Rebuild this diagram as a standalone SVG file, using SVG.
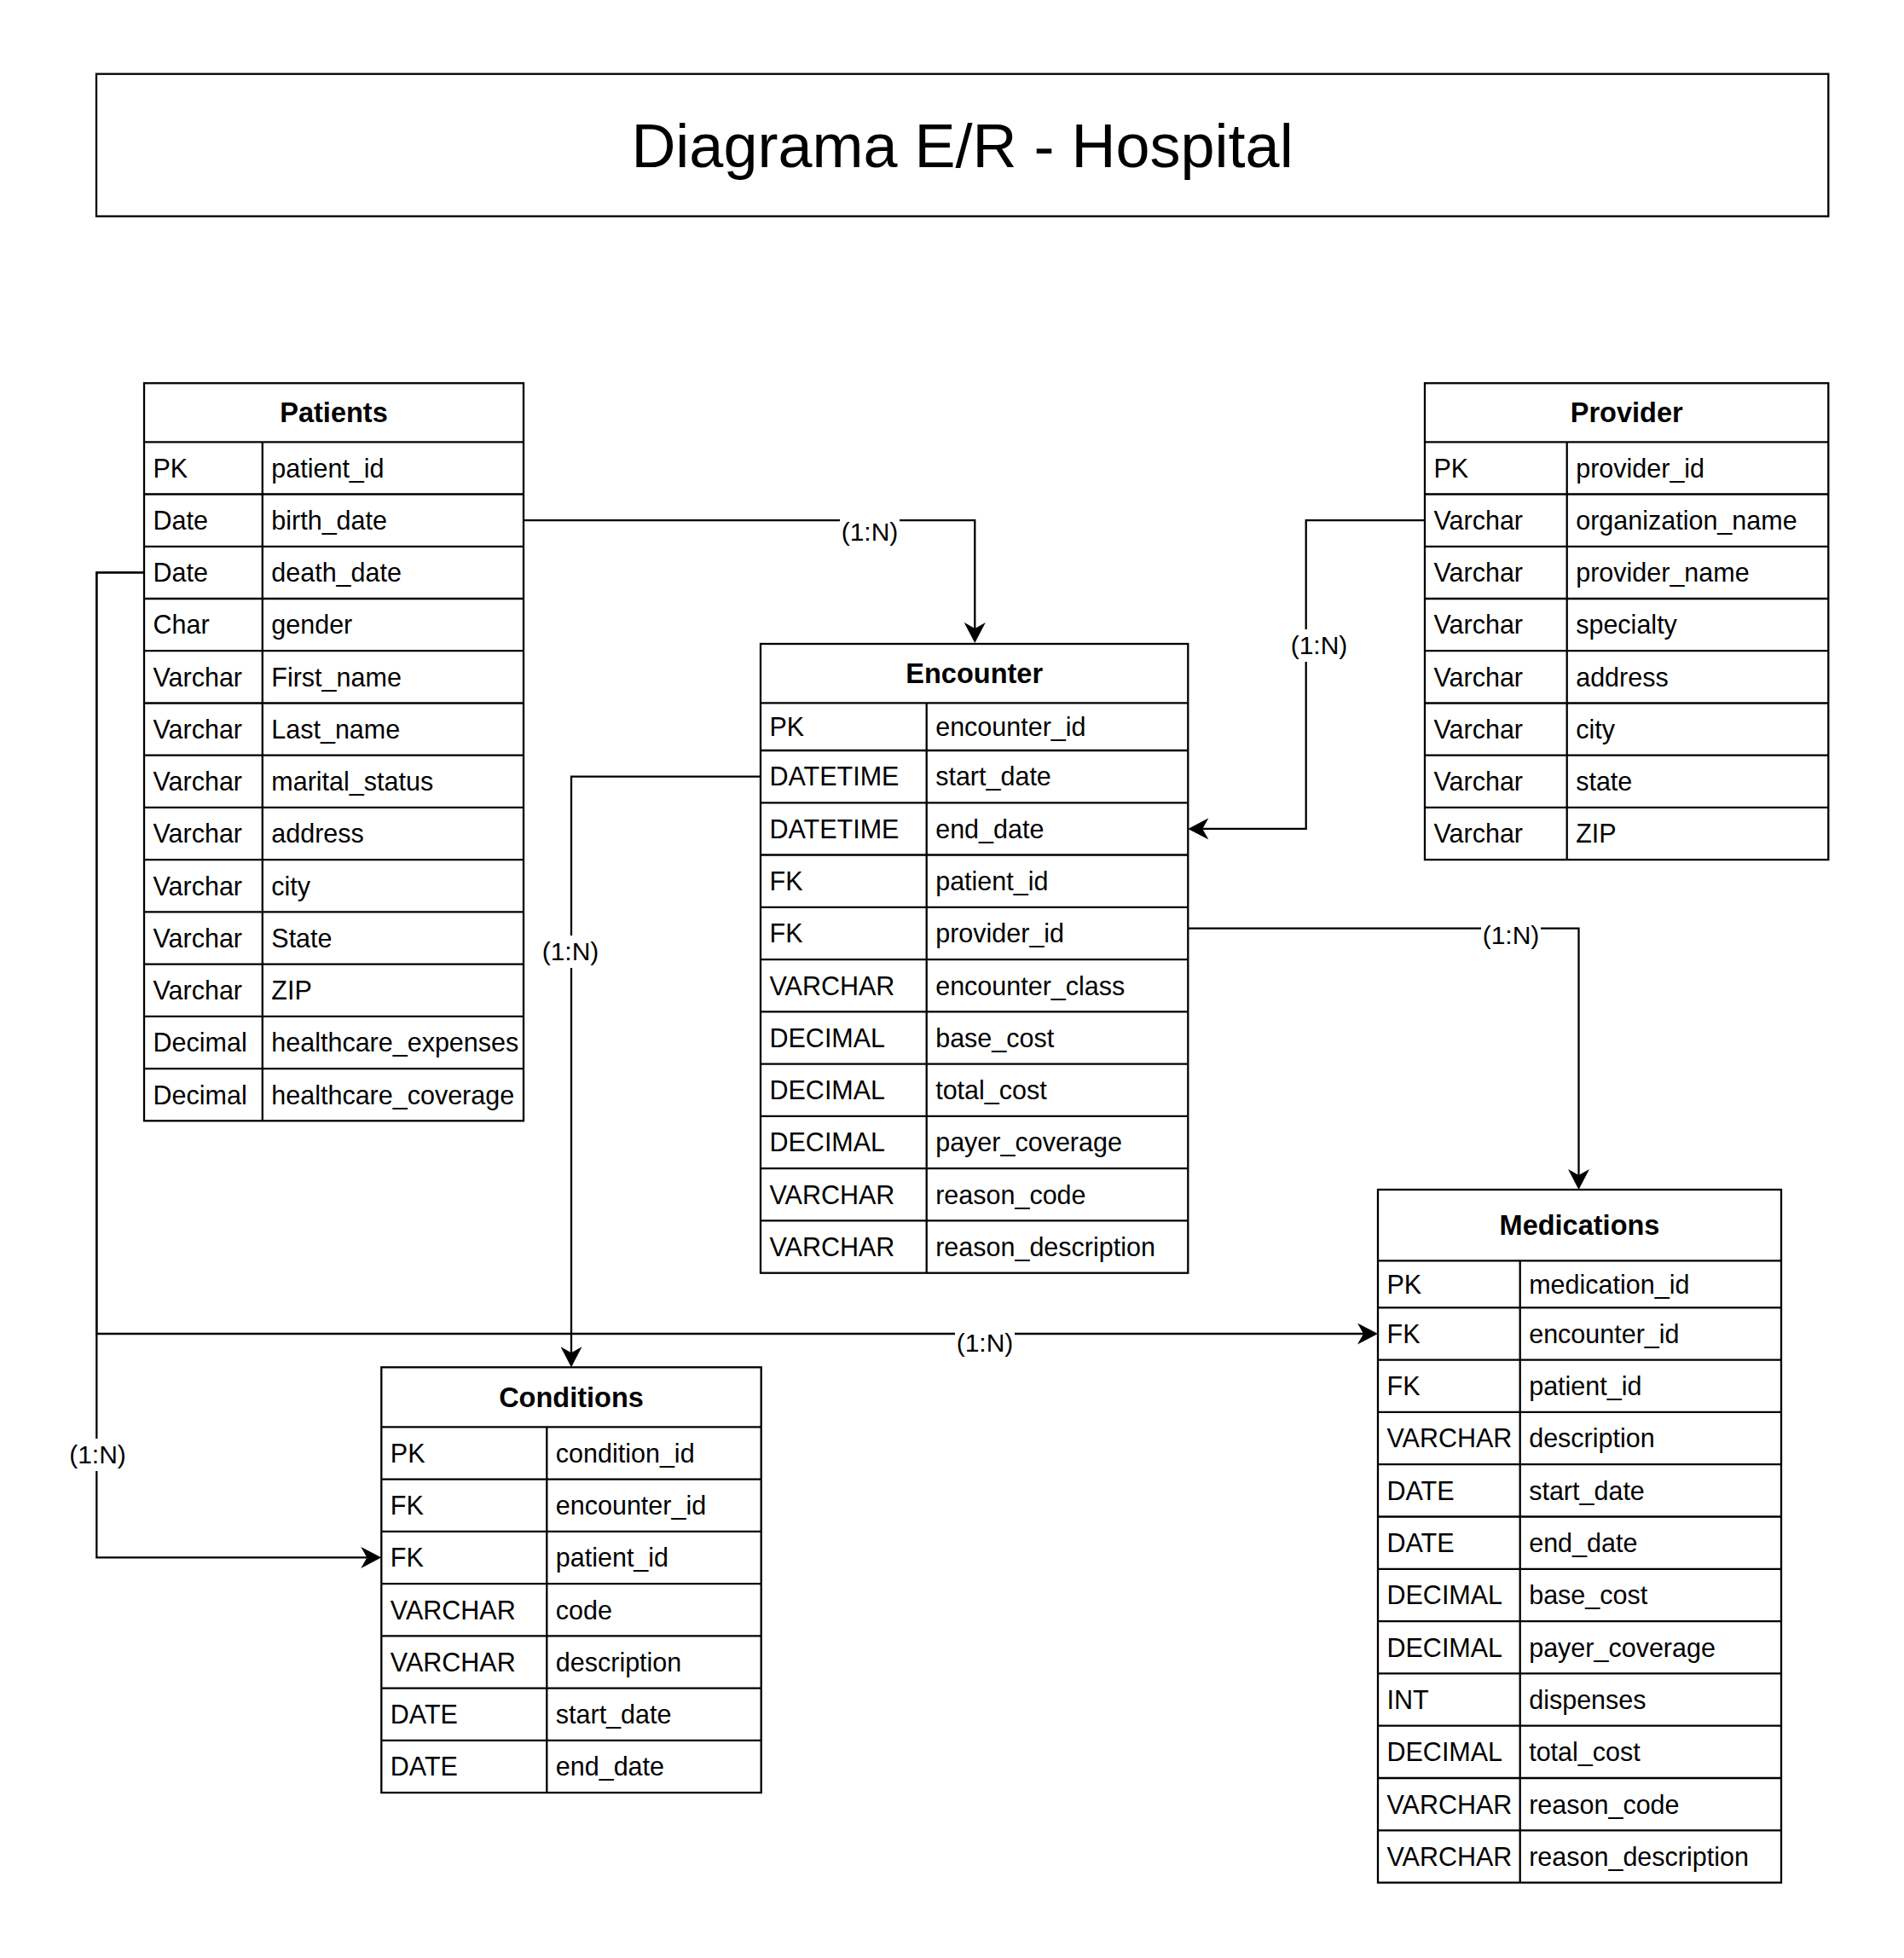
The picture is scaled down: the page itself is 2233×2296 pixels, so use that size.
<svg xmlns="http://www.w3.org/2000/svg" width="2233" height="2296" viewBox="0 0 2233 2296">
<style>
.bx{fill:#fff;stroke:#000;stroke-width:2.3}
.ln{stroke:#000;stroke-width:2.3;fill:none}
.t{font-family:"Liberation Sans",Arial,sans-serif;font-size:30.5px;fill:#000}
.h{font-family:"Liberation Sans",Arial,sans-serif;font-size:32.5px;font-weight:bold;fill:#000;text-anchor:middle}
.title{font-family:"Liberation Sans",Arial,sans-serif;font-size:72px;fill:#000;text-anchor:middle}
.lbl{font-family:"Liberation Sans",Arial,sans-serif;font-size:30px;fill:#000;text-anchor:middle}
.lb{fill:#fff;stroke:none}
.cn{stroke:#000;stroke-width:2.3;fill:none}
</style>
<defs>
<marker id="arr" viewBox="-24 -12.5 24 25" refX="-17" refY="0" markerWidth="24" markerHeight="25" markerUnits="userSpaceOnUse" orient="auto">
<path d="M0,0 L-24,-12.5 L-17,0 L-24,12.5 Z" fill="#000"/>
</marker>
</defs>
<rect width="2233" height="2296" fill="#fff"/>

<g id="title">
<rect class="bx" x="113" y="86.7" width="2031.3" height="166.9"/>
<text class="title" x="1128.5" y="195.5">Diagrama E/R - Hospital</text>
</g>

<g id="connectors">
<path class="cn" d="M614,610.2 H1143.3 V737" marker-end="url(#arr)"/>
<path class="cn" d="M1671,610.2 H1531.7 V971.9 H1410.3" marker-end="url(#arr)"/>
<path class="cn" d="M892,910.6 H670 V1586.3" marker-end="url(#arr)"/>
<path class="cn" d="M1393.3,1088.7 H1851.5 V1378" marker-end="url(#arr)"/>
<path class="cn" d="M169,671.4 H113.3 V1826.4 H430.3" marker-end="url(#arr)"/>
<path class="cn" d="M169,671.4 H113.3 V1564 H1599" marker-end="url(#arr)"/>
<rect class="lb" x="985" y="605" width="70" height="38"/>
<text class="lbl" x="1020" y="634">(1:N)</text>
<rect class="lb" x="1512" y="738" width="70" height="38"/>
<text class="lbl" x="1547" y="767">(1:N)</text>
<rect class="lb" x="634" y="1097" width="70" height="38"/>
<text class="lbl" x="669" y="1125.5">(1:N)</text>
<rect class="lb" x="1737" y="1080" width="70" height="36"/>
<text class="lbl" x="1772" y="1106.5">(1:N)</text>
<rect class="lb" x="1120" y="1557" width="70" height="38"/>
<text class="lbl" x="1155" y="1585">(1:N)</text>
<rect class="lb" x="79.5" y="1687" width="70" height="38"/>
<text class="lbl" x="114.5" y="1715.5">(1:N)</text>
</g>

<g id="patients">
<rect class="bx" x="169" y="449.3" width="445" height="865"/>
<path class="ln" d="M169,518.3H614 M169,579.5H614 M169,640.8H614 M169,702H614 M169,763.2H614 M169,824.5H614 M169,885.7H614 M169,946.9H614 M169,1008.1H614 M169,1069.4H614 M169,1130.6H614 M169,1191.8H614 M169,1253.1H614 M307.8,518.3V1314.3"/>
<text class="h" x="391.5" y="495.3">Patients</text>
<text class="t" x="179.5" y="559.7">PK</text><text class="t" x="318.3" y="559.7">patient_id</text>
<text class="t" x="179.5" y="621">Date</text><text class="t" x="318.3" y="621">birth_date</text>
<text class="t" x="179.5" y="682.2">Date</text><text class="t" x="318.3" y="682.2">death_date</text>
<text class="t" x="179.5" y="743.4">Char</text><text class="t" x="318.3" y="743.4">gender</text>
<text class="t" x="179.5" y="804.7">Varchar</text><text class="t" x="318.3" y="804.7">First_name</text>
<text class="t" x="179.5" y="865.9">Varchar</text><text class="t" x="318.3" y="865.9">Last_name</text>
<text class="t" x="179.5" y="927.1">Varchar</text><text class="t" x="318.3" y="927.1">marital_status</text>
<text class="t" x="179.5" y="988.3">Varchar</text><text class="t" x="318.3" y="988.3">address</text>
<text class="t" x="179.5" y="1049.6">Varchar</text><text class="t" x="318.3" y="1049.6">city</text>
<text class="t" x="179.5" y="1110.8">Varchar</text><text class="t" x="318.3" y="1110.8">State</text>
<text class="t" x="179.5" y="1172">Varchar</text><text class="t" x="318.3" y="1172">ZIP</text>
<text class="t" x="179.5" y="1233.3">Decimal</text><text class="t" x="318.3" y="1233.3">healthcare_expenses</text>
<text class="t" x="179.5" y="1294.5">Decimal</text><text class="t" x="318.3" y="1294.5">healthcare_coverage</text>
</g>

<g id="provider">
<rect class="bx" x="1671" y="449.3" width="473.3" height="558.8"/>
<path class="ln" d="M1671,518.3H2144.3 M1671,579.5H2144.3 M1671,640.8H2144.3 M1671,702H2144.3 M1671,763.2H2144.3 M1671,824.5H2144.3 M1671,885.7H2144.3 M1671,946.9H2144.3 M1837.7,518.3V1008.1"/>
<text class="h" x="1907.7" y="495.3">Provider</text>
<text class="t" x="1681.5" y="559.7">PK</text><text class="t" x="1848.2" y="559.7">provider_id</text>
<text class="t" x="1681.5" y="621">Varchar</text><text class="t" x="1848.2" y="621">organization_name</text>
<text class="t" x="1681.5" y="682.2">Varchar</text><text class="t" x="1848.2" y="682.2">provider_name</text>
<text class="t" x="1681.5" y="743.4">Varchar</text><text class="t" x="1848.2" y="743.4">specialty</text>
<text class="t" x="1681.5" y="804.7">Varchar</text><text class="t" x="1848.2" y="804.7">address</text>
<text class="t" x="1681.5" y="865.9">Varchar</text><text class="t" x="1848.2" y="865.9">city</text>
<text class="t" x="1681.5" y="927.1">Varchar</text><text class="t" x="1848.2" y="927.1">state</text>
<text class="t" x="1681.5" y="988.3">Varchar</text><text class="t" x="1848.2" y="988.3">ZIP</text>
</g>

<g id="encounter">
<rect class="bx" x="892" y="755" width="501.3" height="737.7"/>
<path class="ln" d="M892,824.3H1393.3 M892,880H1393.3 M892,941.3H1393.3 M892,1002.5H1393.3 M892,1063.8H1393.3 M892,1125.1H1393.3 M892,1186.4H1393.3 M892,1247.6H1393.3 M892,1308.9H1393.3 M892,1370.2H1393.3 M892,1431.4H1393.3 M1086.7,824.3V1492.7"/>
<text class="h" x="1142.7" y="801.2">Encounter</text>
<text class="t" x="902.5" y="863">PK</text><text class="t" x="1097.2" y="863">encounter_id</text>
<text class="t" x="902.5" y="921.4">DATETIME</text><text class="t" x="1097.2" y="921.4">start_date</text>
<text class="t" x="902.5" y="982.7">DATETIME</text><text class="t" x="1097.2" y="982.7">end_date</text>
<text class="t" x="902.5" y="1044">FK</text><text class="t" x="1097.2" y="1044">patient_id</text>
<text class="t" x="902.5" y="1105.3">FK</text><text class="t" x="1097.2" y="1105.3">provider_id</text>
<text class="t" x="902.5" y="1166.5">VARCHAR</text><text class="t" x="1097.2" y="1166.5">encounter_class</text>
<text class="t" x="902.5" y="1227.8">DECIMAL</text><text class="t" x="1097.2" y="1227.8">base_cost</text>
<text class="t" x="902.5" y="1289.1">DECIMAL</text><text class="t" x="1097.2" y="1289.1">total_cost</text>
<text class="t" x="902.5" y="1350.3">DECIMAL</text><text class="t" x="1097.2" y="1350.3">payer_coverage</text>
<text class="t" x="902.5" y="1411.6">VARCHAR</text><text class="t" x="1097.2" y="1411.6">reason_code</text>
<text class="t" x="902.5" y="1472.9">VARCHAR</text><text class="t" x="1097.2" y="1472.9">reason_description</text>
</g>

<g id="medications">
<rect class="bx" x="1616" y="1395" width="473" height="812.6"/>
<path class="ln" d="M1616,1478.3H2089 M1616,1533.3H2089 M1616,1594.6H2089 M1616,1655.9H2089 M1616,1717.2H2089 M1616,1778.5H2089 M1616,1839.8H2089 M1616,1901.1H2089 M1616,1962.4H2089 M1616,2023.7H2089 M1616,2085H2089 M1616,2146.3H2089 M1782.7,1478.3V2207.6"/>
<text class="h" x="1852.5" y="1448.2">Medications</text>
<text class="t" x="1626.5" y="1516.6">PK</text><text class="t" x="1793.2" y="1516.6">medication_id</text>
<text class="t" x="1626.5" y="1574.8">FK</text><text class="t" x="1793.2" y="1574.8">encounter_id</text>
<text class="t" x="1626.5" y="1636.1">FK</text><text class="t" x="1793.2" y="1636.1">patient_id</text>
<text class="t" x="1626.5" y="1697.4">VARCHAR</text><text class="t" x="1793.2" y="1697.4">description</text>
<text class="t" x="1626.5" y="1758.7">DATE</text><text class="t" x="1793.2" y="1758.7">start_date</text>
<text class="t" x="1626.5" y="1820">DATE</text><text class="t" x="1793.2" y="1820">end_date</text>
<text class="t" x="1626.5" y="1881.3">DECIMAL</text><text class="t" x="1793.2" y="1881.3">base_cost</text>
<text class="t" x="1626.5" y="1942.6">DECIMAL</text><text class="t" x="1793.2" y="1942.6">payer_coverage</text>
<text class="t" x="1626.5" y="2003.9">INT</text><text class="t" x="1793.2" y="2003.9">dispenses</text>
<text class="t" x="1626.5" y="2065.2">DECIMAL</text><text class="t" x="1793.2" y="2065.2">total_cost</text>
<text class="t" x="1626.5" y="2126.5">VARCHAR</text><text class="t" x="1793.2" y="2126.5">reason_code</text>
<text class="t" x="1626.5" y="2187.8">VARCHAR</text><text class="t" x="1793.2" y="2187.8">reason_description</text>
</g>

<g id="conditions">
<rect class="bx" x="447.3" y="1603.3" width="445.4" height="498.8"/>
<path class="ln" d="M447.3,1673.3H892.7 M447.3,1734.6H892.7 M447.3,1795.8H892.7 M447.3,1857.1H892.7 M447.3,1918.3H892.7 M447.3,1979.6H892.7 M447.3,2040.8H892.7 M641.3,1673.3V2102.1"/>
<text class="h" x="670" y="1649.8">Conditions</text>
<text class="t" x="457.8" y="1714.7">PK</text><text class="t" x="651.8" y="1714.7">condition_id</text>
<text class="t" x="457.8" y="1776">FK</text><text class="t" x="651.8" y="1776">encounter_id</text>
<text class="t" x="457.8" y="1837.2">FK</text><text class="t" x="651.8" y="1837.2">patient_id</text>
<text class="t" x="457.8" y="1898.5">VARCHAR</text><text class="t" x="651.8" y="1898.5">code</text>
<text class="t" x="457.8" y="1959.7">VARCHAR</text><text class="t" x="651.8" y="1959.7">description</text>
<text class="t" x="457.8" y="2021">DATE</text><text class="t" x="651.8" y="2021">start_date</text>
<text class="t" x="457.8" y="2082.2">DATE</text><text class="t" x="651.8" y="2082.2">end_date</text>
</g>
</svg>
